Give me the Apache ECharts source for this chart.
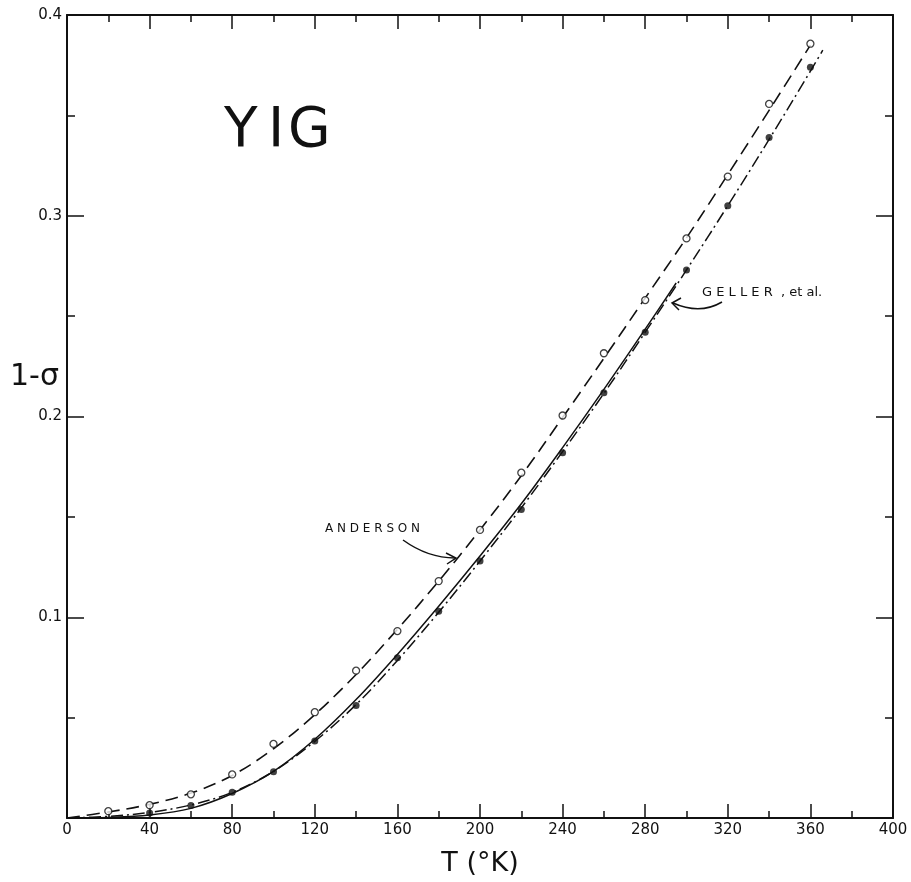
<!DOCTYPE html>
<html>
<head>
<meta charset="utf-8">
<script src="https://cdn.jsdelivr.net/npm/echarts@6/dist/echarts.min.js"></script>
<style>
  html, body { margin: 0; padding: 0; background: #fff; }
  #chart { width: 911px; height: 882px; }
</style>
</head>
<body>
<div id="chart"></div>
<script>
// temperatures (K) of the measured points
var andersonT = [20, 40, 60, 80, 100, 120, 140, 160, 180, 200, 220, 240, 260, 280, 300, 320, 340, 360];
var andersonV = [0.0034, 0.0064, 0.0118, 0.0217, 0.0369, 0.0527, 0.0734, 0.0931, 0.118, 0.1435, 0.172, 0.2005, 0.2315, 0.258, 0.2887, 0.3195, 0.3557, 0.3857];

var filledT = [40, 60, 80, 100, 120, 140, 160, 180, 200, 220, 240, 260, 280, 300, 320, 340, 360];
var filledV = [0.0025, 0.0062, 0.0128, 0.023, 0.0384, 0.056, 0.0798, 0.103, 0.128, 0.1537, 0.182, 0.2118, 0.242, 0.273, 0.305, 0.339, 0.374];

// dashed curve (read off the drawn line, not the points)
var dashedT = [0, 20, 40, 60, 80, 100, 120, 140, 160, 180, 200, 220, 240, 260, 280, 300, 320, 340, 360];
var dashedV = [0, 0.0030, 0.0068, 0.0124, 0.0212, 0.0345, 0.0515, 0.0715, 0.094, 0.118, 0.1435, 0.1705, 0.1995, 0.229, 0.259, 0.289, 0.3205, 0.3525, 0.385];

// dash-dot curve (ends slightly past the last filled point)
var dashDotT = [0, 20, 40, 60, 80, 100, 120, 140, 160, 180, 200, 220, 240, 260, 280, 300, 320, 340, 360, 366];
var dashDotV = [0, 0.0008, 0.0028, 0.0065, 0.0128, 0.0232, 0.0382, 0.0565, 0.0785, 0.1025, 0.128, 0.1545, 0.1825, 0.2115, 0.242, 0.273, 0.305, 0.338, 0.372, 0.3825];

// Geller et al. solid curve
var gellerT = [0, 20, 40, 60, 80, 100, 120, 140, 160, 180, 200, 220, 240, 260, 280, 295];
var gellerV = [0, 0.0003, 0.0015, 0.0048, 0.0122, 0.0232, 0.0392, 0.059, 0.0815, 0.1055, 0.1305, 0.1565, 0.1845, 0.2135, 0.2435, 0.2665];

var xTicks = [0, 40, 80, 120, 160, 200, 240, 280, 320, 360, 400];
var yTicks = [0.1, 0.2, 0.3, 0.4];

function pairs(xs, ys) {
    var out = [];
    for (var i = 0; i < xs.length; i++) out.push([xs[i], ys[i]]);
    return out;
}

var font = 'DejaVu Sans';
var ink = '#111';

var myChart = echarts.init(document.getElementById('chart'));

function axisX(pos, showLabel) {
    return {
        type: 'value', position: pos, min: 0, max: 400, interval: 40,
        name: showLabel ? 'T (°K)' : '', nameLocation: 'middle', nameGap: 32,
        nameTextStyle: {fontFamily: font, fontSize: 27, color: ink},
        axisLine: {show: true, onZero: false, lineStyle: {color: ink, width: 2}},
        axisTick: {show: true, inside: true, length: 14, lineStyle: {color: ink, width: 1.5}},
        minorTick: {show: true, splitNumber: 2, length: 7, lineStyle: {color: ink, width: 1.5}},
        splitLine: {show: false},
        axisLabel: {
            show: showLabel, margin: 5, fontFamily: font, fontSize: 15, color: ink,
            formatter: function (v) { return xTicks.indexOf(v) >= 0 ? String(v) : ''; }
        }
    };
}

function axisY(pos, showLabel) {
    return {
        type: 'value', position: pos, min: 0, max: 0.4, interval: 0.1,
        axisLine: {show: true, onZero: false, lineStyle: {color: ink, width: 2}},
        axisTick: {show: true, inside: true, length: 17, lineStyle: {color: ink, width: 1.5}},
        minorTick: {show: true, splitNumber: 2, length: 8, lineStyle: {color: ink, width: 1.5}},
        splitLine: {show: false},
        axisLabel: {
            show: showLabel, margin: 5, fontFamily: font, fontSize: 15, color: ink,
            formatter: function (v) {
                var r = Math.round(v * 10) / 10;
                return yTicks.indexOf(r) >= 0 ? r.toFixed(1) : '';
            }
        }
    };
}

option = {
    backgroundColor: '#fff',
    animation: false,
    grid: {left: 67, right: 18, top: 15, bottom: 56},
    xAxis: [axisX('bottom', true), axisX('top', false)],
    yAxis: [axisY('left', true), axisY('right', false)],
    series: [
        {
            name: 'Anderson', type: 'line', smooth: 0.35, showSymbol: false,
            data: pairs(dashedT, dashedV),
            lineStyle: {color: ink, width: 1.6, type: [13, 7]}
        },
        {
            name: 'dash-dot', type: 'line', smooth: 0.35, showSymbol: false,
            data: pairs(dashDotT, dashDotV),
            lineStyle: {color: ink, width: 1.5, type: [12, 4, 2, 4]}
        },
        {
            name: 'Geller', type: 'line', smooth: 0.35, showSymbol: false,
            data: pairs(gellerT, gellerV),
            lineStyle: {color: ink, width: 1.5}
        },
        {
            name: 'open', type: 'scatter', symbol: 'circle', symbolSize: 7,
            data: pairs(andersonT, andersonV),
            itemStyle: {color: '#fff', borderColor: ink, borderWidth: 1.3}, z: 5
        },
        {
            name: 'filled', type: 'scatter', symbol: 'circle', symbolSize: 7,
            data: pairs(filledT, filledV),
            itemStyle: {color: ink}, z: 5
        }
    ],
    graphic: [
        {type: 'text', left: 224, top: 104,
            style: {text: 'Y', font: '55px "DejaVu Sans"', fill: ink}},
        {type: 'text', left: 268, top: 104,
            style: {text: 'I', font: '55px "DejaVu Sans"', fill: ink}},
        {type: 'text', left: 288, top: 104,
            style: {text: 'G', font: '55px "DejaVu Sans"', fill: ink}},
        {type: 'text', left: 10, top: 362,
            style: {text: '1-σ', font: '30px "DejaVu Sans"', fill: ink}},
        {type: 'text', left: 325, top: 523,
            style: {text: 'A N D E R S O N', font: '12px "DejaVu Sans"', fill: ink}},
        {type: 'bezierCurve',
            shape: {x1: 403, y1: 540, x2: 455, y2: 558, cpx1: 428, cpy1: 558},
            style: {stroke: ink, lineWidth: 1.5, fill: null}},
        {type: 'polyline',
            shape: {points: [[446, 553], [456, 558], [447, 564]]},
            style: {stroke: ink, lineWidth: 1.5, fill: null}},
        {type: 'text', left: 702, top: 286,
            style: {text: 'G E L L E R  , et al.', font: '13px "DejaVu Sans"', fill: ink}},
        {type: 'bezierCurve',
            shape: {x1: 722, y1: 302, x2: 673, y2: 303, cpx1: 700, cpy1: 315},
            style: {stroke: ink, lineWidth: 1.5, fill: null}},
        {type: 'polyline',
            shape: {points: [[681, 298], [672, 303], [679, 310]]},
            style: {stroke: ink, lineWidth: 1.5, fill: null}}
    ]
};

myChart.setOption(option);
</script>
</body>
</html>
